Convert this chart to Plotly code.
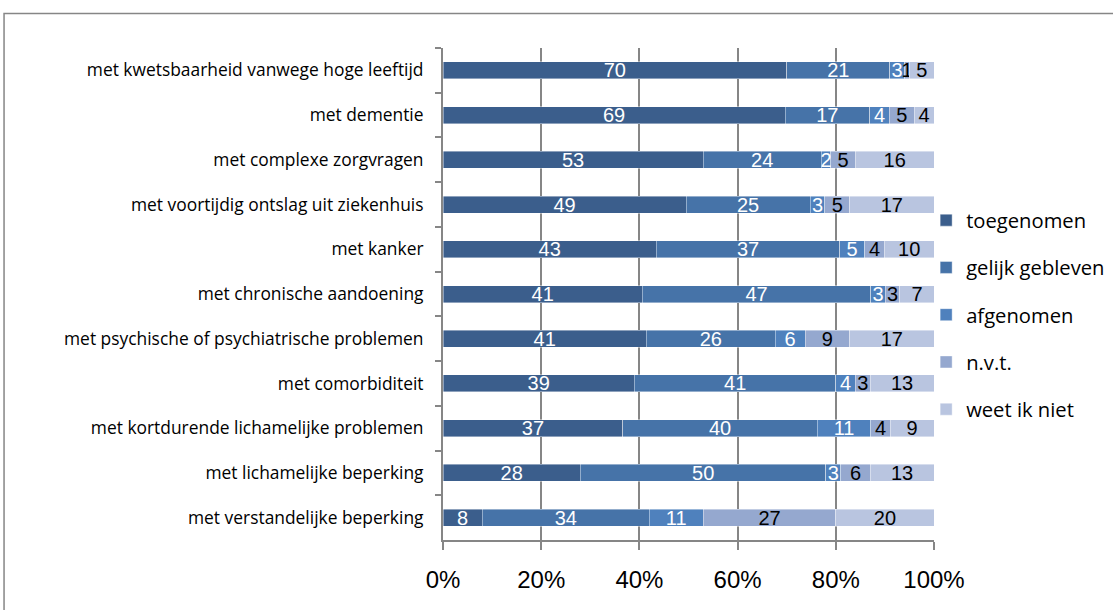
import plotly.graph_objects as go

categories = [
    "met kwetsbaarheid vanwege hoge leeftijd",
    "met dementie",
    "met complexe zorgvragen",
    "met voortijdig ontslag uit ziekenhuis",
    "met kanker",
    "met chronische aandoening",
    "met psychische of psychiatrische problemen",
    "met comorbiditeit",
    "met kortdurende lichamelijke problemen",
    "met lichamelijke beperking",
    "met verstandelijke beperking",
]
toegenomen = [70, 69, 53, 49, 43, 41, 41, 39, 37, 28, 8]
gelijk_gebleven = [21, 17, 24, 25, 37, 47, 26, 41, 40, 50, 34]
afgenomen = [3, 4, 2, 3, 5, 3, 6, 4, 11, 3, 11]
nvt = [1, 5, 5, 5, 4, 3, 9, 3, 4, 6, 27]
weet_ik_niet = [5, 4, 16, 17, 10, 7, 17, 13, 9, 13, 20]

series = [
    ("toegenomen", toegenomen, "#3B5E8C", "white"),
    ("gelijk gebleven", gelijk_gebleven, "#4673A8", "white"),
    ("afgenomen", afgenomen, "#4F81BD", "white"),
    ("n.v.t.", nvt, "#95A8CF", "black"),
    ("weet ik niet", weet_ik_niet, "#B9C5E0", "black"),
]

NUMFONT = "Liberation Sans"
TXTFONT = "Open Sans"
fig = go.Figure()
for i, (name, vals, color, tcol) in enumerate(series):
    fig.add_trace(go.Bar(
        y=categories, x=vals, name=name, orientation="h",
        marker=dict(color=color, line=dict(color="rgba(255,255,255,0.6)", width=0.7)),
        text=vals, texttemplate="%{text}", textposition="inside",
        insidetextanchor="middle", textangle=0,
        textfont=dict(color=tcol, size=20, family=NUMFONT),
        legendgroup=name, hoverinfo="skip",
    ))

gray = "#868686"
fig.update_layout(
    width=1113, height=610,
    barmode="stack", barnorm="percent", bargap=0.62,
    paper_bgcolor="white", plot_bgcolor="white",
    margin=dict(l=443, r=179, t=48, b=70, autoexpand=False),
    uniformtext=dict(minsize=20, mode="show"),
    font=dict(family=TXTFONT, color="black"),
    legend=dict(x=0.984, y=0.69, xanchor="left", yanchor="top",
                bgcolor="rgba(0,0,0,0)",
                traceorder="grouped", tracegroupgap=18,
                font=dict(size=20.2, family=TXTFONT), itemwidth=30),
    xaxis=dict(range=[0, 100], dtick=20, ticksuffix="%", showgrid=True,
               gridcolor=gray, gridwidth=2, showline=True, linecolor=gray,
               linewidth=2, ticks="outside", ticklen=8, tickcolor=gray,
               tickwidth=2, tickfont=dict(size=24, family=NUMFONT),
               ticklabelstandoff=9,
               zeroline=False, fixedrange=True),
    yaxis=dict(autorange="reversed", showline=True, linecolor=gray, linewidth=2,
               ticks="outside", ticklen=6, tickcolor=gray, tickwidth=2,
               tickson="boundaries", tickfont=dict(size=17.4, family=TXTFONT),
               ticklabelstandoff=14, showgrid=False, fixedrange=True),
    shapes=[dict(type="rect", xref="paper", yref="paper",
                 x0=-0.894, x1=1.375, y0=-0.152, y1=1.07,
                 line=dict(color=gray, width=1.5), layer="below")],
)
fig.write_html("out.html", config={"displayModeBar": False},
               post_script="document.body.style.margin='0px';")
